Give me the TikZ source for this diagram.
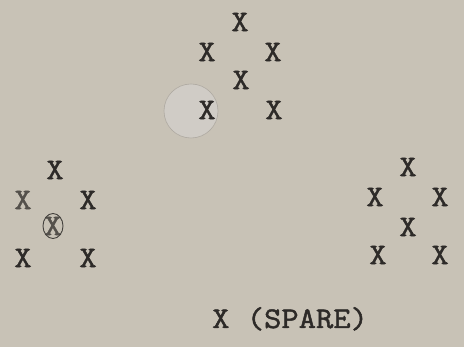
\documentclass[tikz,border=0pt]{standalone}
\usepackage{fontspec}
\newfontfamily\tw{Latin Modern Mono}[FakeBold=1.6,FakeStretch=1.12]
\definecolor{paper}{RGB}{200,194,182}
\definecolor{ink}{RGB}{45,42,40}
\definecolor{disc}{RGB}{208,204,198}
\definecolor{rim}{RGB}{175,170,162}
\begin{document}
\begin{tikzpicture}[x=1pt,y=-1pt,
  xm/.style={inner sep=0pt, text=ink, font=\tw\fontsize{30}{30}\selectfont},
  faint/.style={xm, text=ink!75!paper}]
\fill[paper] (0,0) rectangle (464,347);
\useasboundingbox (0,0) rectangle (464,347);
% hole-like disc
\fill[disc] (191,111) circle (27);
\draw[rim, line width=0.6pt] (191,111) circle (27);
% top cluster
\node[xm] (t1) at (240,22) {X};
\node[xm] (t2) at (207,52) {X};
\node[xm] (t3) at (273,52) {X};
\node[xm] (t4) at (241,80) {X};
\node[xm] (t5) at (207,110) {X};
\node[xm] (t6) at (274,110) {X};
% left cluster
\node[xm] (l1) at (55,170) {X};
\node[faint] (l2) at (23,200) {X};
\node[xm] (l3) at (88,200) {X};
\node[faint] (l4) at (53,226) {X};
\node[xm] (l5) at (23,258) {X};
\node[xm] (l6) at (88,258) {X};
\draw[ink!85!paper, line width=0.9pt] (l4) ellipse (10 and 12.5);
% right cluster
\node[xm] (r1) at (408,167) {X};
\node[xm] (r2) at (375,197) {X};
\node[xm] (r3) at (440,197) {X};
\node[xm] (r4) at (408,227) {X};
\node[xm] (r5) at (378,255) {X};
\node[xm] (r6) at (440,255) {X};
% spare label
\node[xm, anchor=base west] (spare) at (212,328) {X (SPARE)};
\end{tikzpicture}
\end{document}
